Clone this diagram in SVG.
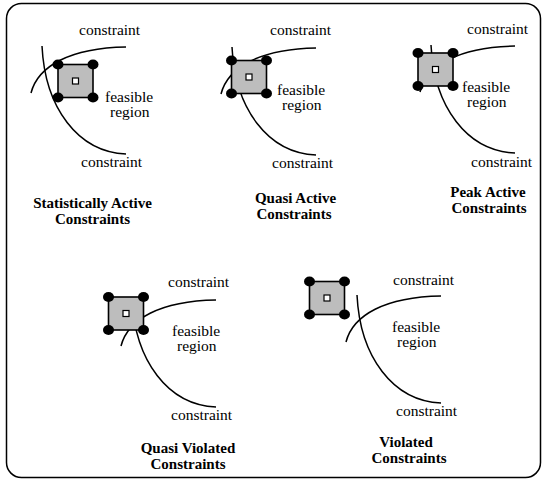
<svg xmlns="http://www.w3.org/2000/svg" xmlns:xlink="http://www.w3.org/1999/xlink" width="546" height="480" viewBox="0 0 546 480">
<style>
.t{font-family:"Liberation Serif","Times New Roman",serif;font-size:15.5px;fill:#000}
.b{font-family:"Liberation Serif","Times New Roman",serif;font-size:15px;font-weight:bold;fill:#000;text-anchor:middle}
.c{fill:none;stroke:#000;stroke-width:1.5}
.sq{fill:#bdbdbd;stroke:#000;stroke-width:1.6}
.ctr{fill:#fff;stroke:#000;stroke-width:1.2}
</style>
<defs>
<g id="curves">
<path class="c" d="M31,93 C38,66 70,48 126,47"/>
<path class="c" d="M42,46 C45,108 78,152 126,154"/>
</g>
<g id="box">
<rect class="sq" x="-17.5" y="-16.5" width="35" height="33"/>
<ellipse cx="-17.5" cy="-16.5" rx="5.5" ry="5"/>
<ellipse cx="17.5" cy="-16.5" rx="5.5" ry="5"/>
<ellipse cx="-17.5" cy="16.5" rx="5.5" ry="5"/>
<ellipse cx="17.5" cy="16.5" rx="5.5" ry="5"/>
<rect class="ctr" x="-3" y="-3" width="6" height="6"/>
</g>
</defs>
<rect x="6.5" y="3.5" width="534" height="474" rx="15" fill="#fff" stroke="#000" stroke-width="1.5"/>

<g id="statistically-active">
<use xlink:href="#curves"/>
<use xlink:href="#box" transform="translate(75.5,81)"/>
<text class="t" x="79" y="35">constraint</text>
<text class="t" x="105" y="102">feasible</text>
<text class="t" x="110" y="117">region</text>
<text class="t" x="81" y="167">constraint</text>
<text class="b" x="92.5" y="208">Statistically Active</text>
<text class="b" x="92.5" y="224">Constraints</text>
</g>

<g id="quasi-active">
<use xlink:href="#curves" transform="translate(190,1)"/>
<use xlink:href="#box" transform="translate(249,77)"/>
<text class="t" x="277" y="95">feasible</text>
<text class="t" x="282" y="110">region</text>
<text class="t" x="270" y="35">constraint</text>
<text class="t" x="272" y="168">constraint</text>
<text class="b" x="295.5" y="203">Quasi Active</text>
<text class="b" x="294" y="219">Constraints</text>
</g>

<g id="peak-active">
<use xlink:href="#curves" transform="translate(389,-1)"/>
<use xlink:href="#box" transform="translate(435.5,69.5)"/>
<text class="t" x="467" y="34">constraint</text>
<text class="t" x="462" y="92">feasible</text>
<text class="t" x="467" y="107">region</text>
<text class="t" x="471" y="167">constraint</text>
<text class="b" x="488" y="197">Peak Active</text>
<text class="b" x="489" y="213">Constraints</text>
</g>

<g id="quasi-violated">
<use xlink:href="#curves" transform="translate(90,253)"/>
<use xlink:href="#box" transform="translate(126,313.5)"/>
<text class="t" x="168" y="287">constraint</text>
<text class="t" x="172" y="336">feasible</text>
<text class="t" x="177" y="351">region</text>
<text class="t" x="171" y="420">constraint</text>
<text class="b" x="188" y="453">Quasi Violated</text>
<text class="b" x="188" y="469">Constraints</text>
</g>

<g id="violated">
<use xlink:href="#curves" transform="translate(315,249)"/>
<use xlink:href="#box" transform="translate(327,298)"/>
<text class="t" x="393" y="285">constraint</text>
<text class="t" x="392" y="332">feasible</text>
<text class="t" x="397" y="347">region</text>
<text class="t" x="396" y="416">constraint</text>
<text class="b" x="406" y="447">Violated</text>
<text class="b" x="409" y="463">Constraints</text>
</g>
</svg>
